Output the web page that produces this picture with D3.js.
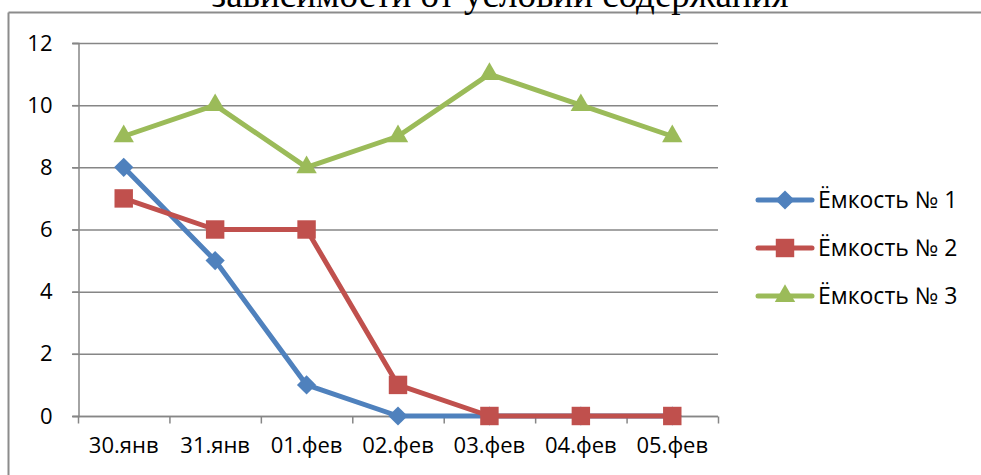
<!DOCTYPE html>
<html>
<head>
<meta charset="utf-8">
<script src="https://cdn.jsdelivr.net/npm/d3@7"></script>
<style>
  html, body { margin: 0; background: #fff; overflow: hidden; }
  svg { display: block; }
  .tick text { font-family: "Open Sans", sans-serif; font-size: 22px; fill: #000; }
</style>
</head>
<body>
<div id="chart"></div>
<script>
// data
var categories = ["30.янв", "31.янв", "01.фев", "02.фев", "03.фев", "04.фев", "05.фев"];
var seriesNames = ["Ёмкость № 1", "Ёмкость № 2", "Ёмкость № 3"];
var tank1 = [8, 5, 1, 0, 0, 0, 0];
var tank2 = [7, 6, 6, 1, 0, 0, 0];
var tank3 = [9, 10, 8, 9, 11, 10, 9];
var yTicks = [0, 2, 4, 6, 8, 10, 12];
var titleText = "зависимости от условий содержания";

var colors = ["#4F81BD", "#C0504D", "#9BBB59"];
// diamond = square turned by 45 degrees
var shapes = [d3.symbolSquare, d3.symbolSquare, d3.symbolTriangle];
var sizes = [185, 340, 180];
var turns = [45, 0, 0];

var width = 981, height = 475;

var svg = d3.select("#chart")
  .append("svg")
  .attr("width", width)
  .attr("height", height);

// frame of the chart area (top and left edges only are visible)
svg.append("line")
  .attr("x1", 8.5).attr("x2", width).attr("y1", 12.5).attr("y2", 12.5)
  .attr("stroke", "#8c8c8c").attr("stroke-width", 2);
svg.append("line")
  .attr("x1", 8.5).attr("x2", 8.5).attr("y1", 12.5).attr("y2", height)
  .attr("stroke", "#8c8c8c").attr("stroke-width", 2);

// the cut-off title above the frame
svg.append("text")
  .attr("x", 500)
  .attr("y", 7)
  .attr("text-anchor", "middle")
  .style("font-family", "'Liberation Serif', serif")
  .style("font-size", "37px")
  .text(titleText);

// plot area
var plotLeft = 78, plotRight = 718, plotTop = 43, plotBottom = 416;

var xScale = d3.scaleBand().domain(categories).range([plotLeft, plotRight]);
var yScale = d3.scaleLinear().domain([0, 12]).range([plotBottom, plotTop]);

// gridlines
svg.append("g")
  .selectAll("line")
  .data(yTicks)
  .enter()
  .append("line")
  .attr("x1", plotLeft - 6)
  .attr("x2", plotRight)
  .attr("y1", function(d) { return yScale(d) + 0.5; })
  .attr("y2", function(d) { return yScale(d) + 0.5; })
  .attr("stroke", "#868686")
  .attr("stroke-width", 1.5);

var yAxis = d3.axisLeft(yScale).tickValues(yTicks).tickSize(6).tickPadding(20);
svg.append("g")
  .attr("class", "yAxis")
  .attr("transform", "translate(" + (plotLeft + 0.5) + ",0)")
  .call(yAxis)
  .call(function(g) {
    g.selectAll("line, path").attr("stroke", "#868686").attr("stroke-width", 1.5);
  });

// x axis with ticks between categories
var xAxisG = svg.append("g")
  .attr("class", "xAxis")
  .attr("transform", "translate(0," + (plotBottom + 0.5) + ")");
xAxisG.append("line")
  .attr("x1", plotLeft).attr("x2", plotRight)
  .attr("stroke", "#868686").attr("stroke-width", 1.5);
var bounds = categories.map(function(c) { return xScale(c); }).concat([plotRight]);
xAxisG.selectAll(".xt")
  .data(bounds)
  .enter()
  .append("line")
  .attr("class", "xt")
  .attr("x1", function(d) { return d + 0.5; })
  .attr("x2", function(d) { return d + 0.5; })
  .attr("y1", 0).attr("y2", 7)
  .attr("stroke", "#868686").attr("stroke-width", 1.5);
xAxisG.selectAll(".xl")
  .data(categories)
  .enter()
  .append("text")
  .attr("class", "xl")
  .attr("x", function(d) { return xScale(d) + xScale.bandwidth() / 2; })
  .attr("y", 36)
  .attr("text-anchor", "middle")
  .style("font-family", "'Open Sans', sans-serif")
  .style("font-size", "22px")
  .text(function(d) { return d; });

// series
var allSeries = [tank1, tank2, tank3];
var line = d3.line()
  .x(function(d, i) { return xScale(categories[i]) + xScale.bandwidth() / 2; })
  .y(function(d) { return yScale(d); });

allSeries.forEach(function(values, s) {
  svg.append("path")
    .datum(values)
    .attr("d", line)
    .attr("fill", "none")
    .attr("stroke", colors[s])
    .attr("stroke-width", 5)
    .attr("stroke-linejoin", "round");
  svg.append("g")
    .selectAll("path")
    .data(values)
    .enter()
    .append("path")
    .attr("d", d3.symbol().type(shapes[s]).size(sizes[s]))
    .attr("transform", function(d, i) {
      return "translate(" + (xScale(categories[i]) + xScale.bandwidth() / 2) + "," + yScale(d) + ")rotate(" + turns[s] + ")";
    })
    .attr("fill", colors[s]);
});

// legend
var legend = svg.append("g").attr("transform", "translate(758,200)");
seriesNames.forEach(function(name, s) {
  var row = legend.append("g").attr("transform", "translate(0," + (s * 48) + ")");
  row.append("line")
    .attr("x1", 0).attr("x2", 54)
    .attr("stroke", colors[s]).attr("stroke-width", 5)
    .attr("stroke-linecap", "round");
  row.append("path")
    .attr("d", d3.symbol().type(shapes[s]).size(sizes[s]))
    .attr("transform", "translate(27,0)rotate(" + turns[s] + ")")
    .attr("fill", colors[s]);
  row.append("text")
    .attr("x", 60)
    .attr("y", 8)
    .style("font-family", "'Open Sans', sans-serif")
    .style("font-size", "23px")
    .text(name);
});
</script>
</body>
</html>
